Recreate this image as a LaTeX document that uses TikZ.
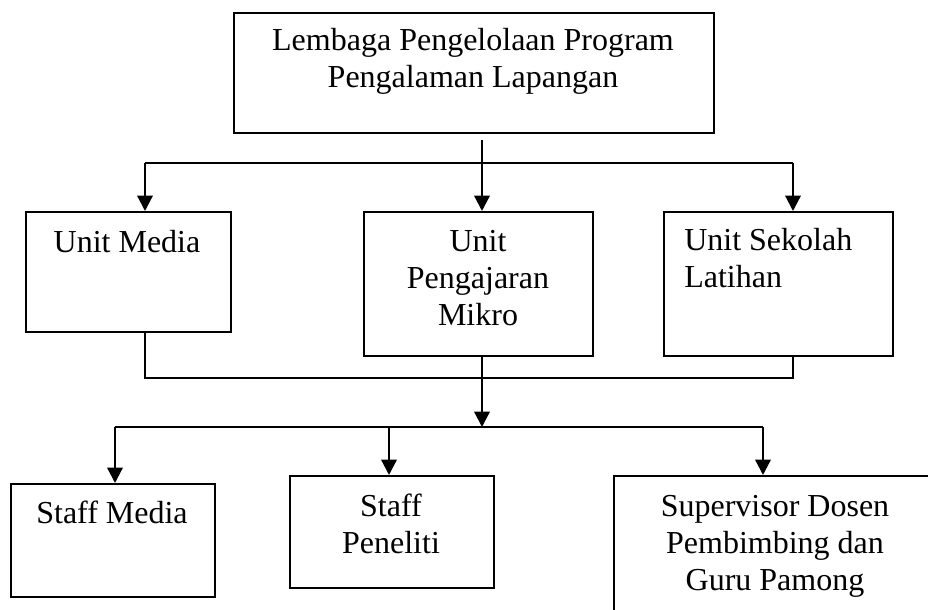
\documentclass[tikz,border=0pt]{standalone}
\usepackage{fontspec}
\setmainfont{Liberation Serif}
\usetikzlibrary{arrows.meta}
\tikzset{
  box/.style={draw, line width=1.4pt, anchor=north west, inner sep=0pt},
  txt/.style={font=\fontsize{24}{27.75}\selectfont, inner sep=0pt, align=center, anchor=base},
  link/.style={line width=1.7pt},
  arrowlink/.style={link, -{Triangle[width=11.5pt,length=11.5pt]}}
}
\begin{document}
\begin{tikzpicture}[x=0.75pt,y=-0.75pt]
\path[use as bounding box, clip] (0,0) rectangle (928,610);
% boxes
\node[box, minimum width=480*0.75pt, minimum height=120*0.75pt] (lppl) at (233,12) {};
\node[box, minimum width=205*0.75pt, minimum height=120*0.75pt] (umedia) at (25,211) {};
\node[box, minimum width=229*0.75pt, minimum height=144*0.75pt] (umikro) at (363,211) {};
\node[box, minimum width=229*0.75pt, minimum height=144*0.75pt] (usekolah) at (663,211) {};
\node[box, minimum width=204*0.75pt, minimum height=113*0.75pt] (smedia) at (10,483) {};
\node[box, minimum width=204*0.75pt, minimum height=112*0.75pt] (speneliti) at (289,475) {};
\node[box, minimum width=400*0.75pt, minimum height=200*0.75pt] (supervisor) at (613,475) {};
% texts (base = last line)
\node[txt] (lppl-t) at (473,88) {Lembaga Pengelolaan Program\\Pengalaman Lapangan};
\node[txt] (umedia-t) at (127,252) {Unit Media};
\node[txt] (umikro-t) at (478,325) {Unit\\Pengajaran\\Mikro};
\node[txt, align=left, anchor=base west] (usekolah-t) at (684,287) {Unit Sekolah\\Latihan};
\node[txt] (smedia-t) at (112,523) {Staff Media};
\node[txt] (speneliti-t) at (391,553) {Staff\\Peneliti};
\node[txt] (supervisor-t) at (775,590) {Supervisor Dosen\\Pembimbing dan\\Guru Pamong};
% junctions
\coordinate (j1) at (482,163);
\coordinate (j2) at (482,378);
\coordinate (j3) at (482,427);
\coordinate (l1) at (145,163);
\coordinate (r1) at (793,163);
\coordinate (l3) at (115,427);
\coordinate (m3) at (389,427);
\coordinate (r3) at (763,427);
% connectors
\draw[arrowlink] ([yshift=-4.5pt]lppl.south -| j1) -- (j1 |- umikro.north);
\draw[link] (l1) -- (r1);
\draw[arrowlink] (l1) -- (l1 |- umedia.north);
\draw[arrowlink] (r1) -- (r1 |- usekolah.north);
\draw[link] (l1 |- umedia.south) -- (l1 |- j2) -- (r1 |- j2) -- (r1 |- usekolah.south);
\draw[arrowlink] (j2 |- umikro.south) -- (j3);
\draw[link] (l3) -- (r3);
\draw[arrowlink] (l3) -- (l3 |- smedia.north);
\draw[arrowlink] (m3) -- (m3 |- speneliti.north);
\draw[arrowlink] (r3) -- (r3 |- supervisor.north);
\end{tikzpicture}
\end{document}
